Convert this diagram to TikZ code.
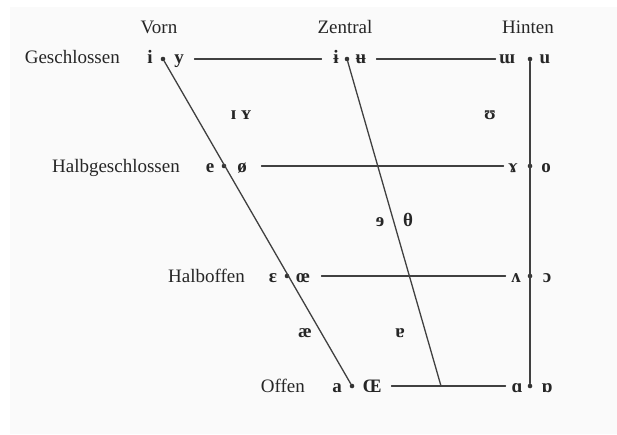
\documentclass[tikz,border=0pt]{standalone}
\usepackage{fontspec}
\setmainfont{Liberation Serif}

\begin{document}
\begin{tikzpicture}[x=1pt,y=-1pt,line cap=round,line join=round,
  every node/.style={inner sep=0pt,anchor=base,text=black!85,font=\fontsize{19}{21}\selectfont},
  vowel/.style={font=\fontsize{19}{21}\selectfont\bfseries},
  vdot/.style={circle,fill=black!80,inner sep=0pt,minimum size=4.6pt,anchor=center},
  rowlab/.style={anchor=base east},
  chart/.style={line width=1.3pt,black!75}]
  \useasboundingbox (0,0) rectangle (617,434);
  \fill[black!2] (10,7) rectangle (617,434);
  % column heads
  \node (vorn) at (159,33) {Vorn};
  \node (zentral) at (345,33) {Zentral};
  \node (hinten) at (528,33) {Hinten};
  % row heads
  \node[rowlab] (geschl) at (120,63) {Geschlossen};
  \node[rowlab] (halbg) at (180,172) {Halbgeschlossen};
  \node[rowlab] (halbo) at (245,282) {Halboffen};
  \node[rowlab] (offen) at (305,392) {Offen};
  % dots
  \node[vdot] (fi) at (163,59) {};
  \node[vdot] (ci) at (347,59) {};
  \node[vdot] (bi) at (530,59) {};
  \node[vdot] (fe) at (224,166) {};
  \node[vdot] (be) at (530,166) {};
  \node[vdot] (fo) at (287,276) {};
  \node[vdot] (bo) at (530,276) {};
  \node[vdot] (fa) at (352,386) {};
  \node[vdot] (ba) at (530,386) {};
  \coordinate (cb) at (441,386);
  % vowels
  \node[vowel] (v-i) at (150,63) {i};
  \node[vowel] (v-y) at (179,63) {y};
  \node[vowel] (v-ib) at (336,63) {ɨ};
  \node[vowel] (v-ub) at (361,63) {ʉ};
  \node[vowel] (v-um) at (507,63) {ɯ};
  \node[vowel] (v-u) at (545,63) {u};
  \node[vowel] (v-e) at (210,172) {e};
  \node[vowel] (v-oe) at (242,172) {ø};
  \node[vowel] (v-ram) at (513,172) {ɤ};
  \node[vowel] (v-o) at (546,172) {o};
  \node[vowel] (v-eps) at (273,282) {ɛ};
  \node[vowel] (v-oel) at (303,282) {œ};
  \node[vowel] (v-wedge) at (516,282) {ʌ};
  \node[vowel] (v-oo) at (547,282) {ɔ};
  \node[vowel] (v-a) at (337,392) {a};
  \node[vowel] (v-OE) at (372,392) {Œ};
  \node[vowel] (v-alpha) at (517,392) {ɑ};
  \node[vowel] (v-turn) at (547,392) {ɒ};
  \node[vowel] (v-IY) at (241,119) {ɪ ʏ};
  \node[vowel] (v-hs) at (490,119) {ʊ};
  \node[vowel] (v-rev) at (380,226) {ɘ};
  \node[vowel] (v-bar) at (408,226) {θ};
  \node[vowel] (v-ash) at (305,337) {æ};
  \node[vowel] (v-turna) at (400,337) {ɐ};
  % lines
  \draw[chart] (fi) -- (fa);
  \draw[chart] (bi) -- (ba);
  \draw[chart] (ci) -- (cb);
  \draw[chart,shorten <=29pt,shorten >=23pt] (fi) -- (ci);
  \draw[chart,shorten <=27pt,shorten >=32pt] (ci) -- (bi);
  \draw[chart,shorten <=35pt,shorten >=24pt] (fe) -- (be);
  \draw[chart,shorten <=32pt,shorten >=22pt] (fo) -- (bo);
  \draw[chart,shorten <=37pt,shorten >=22pt] (fa) -- (ba);
\end{tikzpicture}
\end{document}
